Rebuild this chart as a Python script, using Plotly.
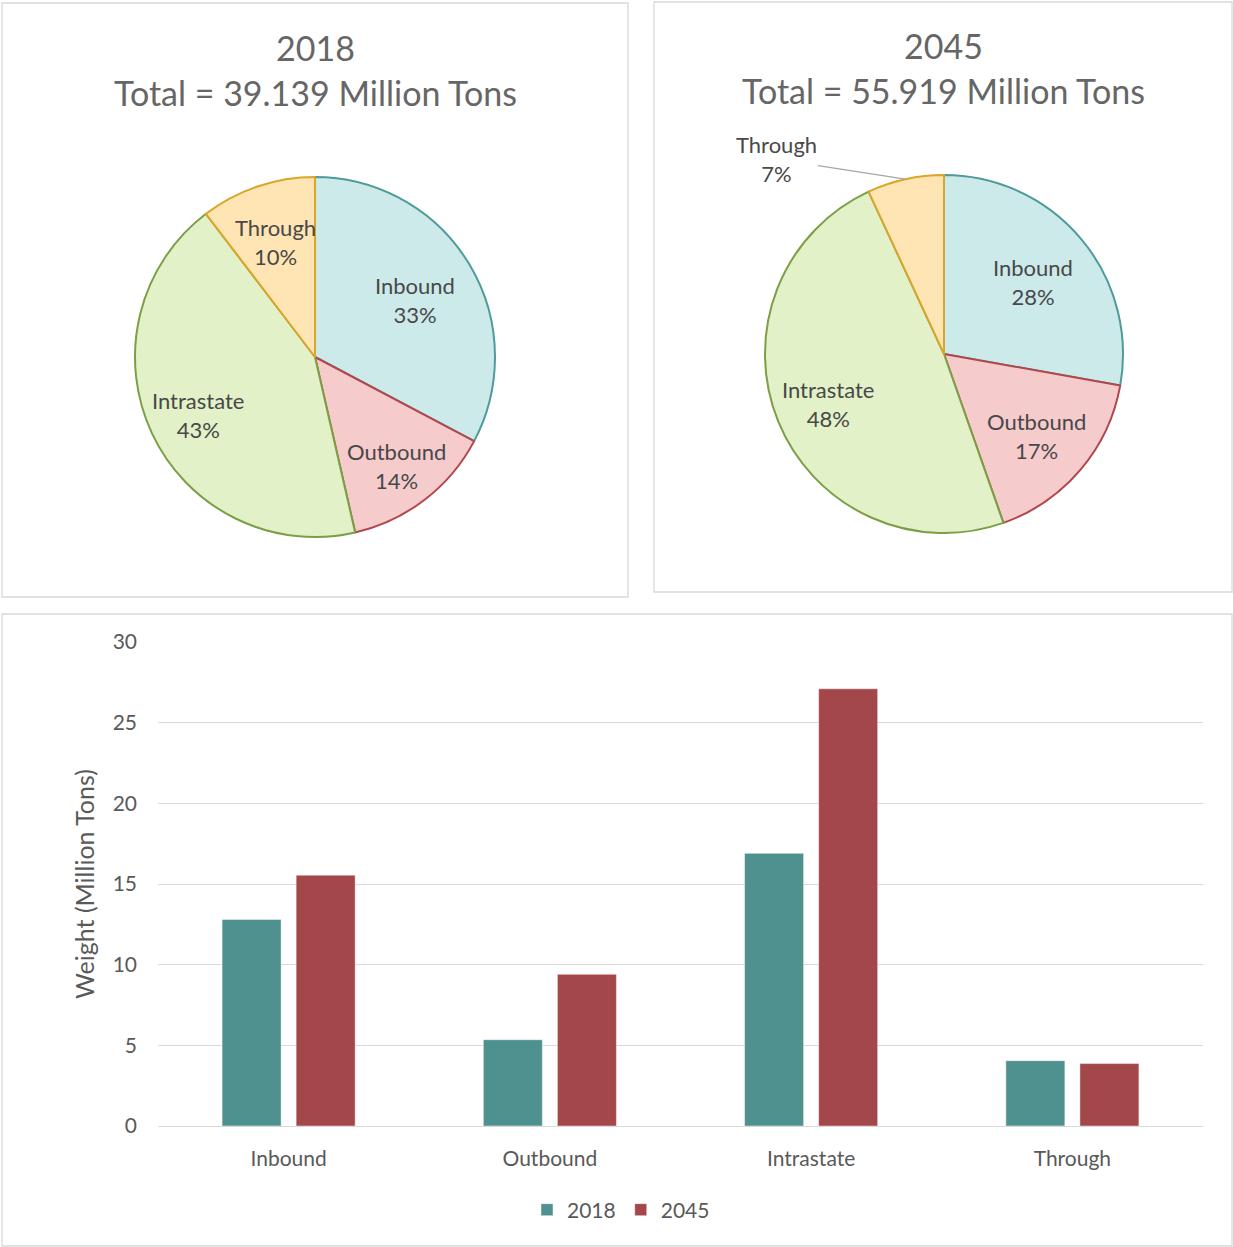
import math
import plotly.graph_objects as go

# Freight flows by direction, million tons
categories = ["Inbound", "Outbound", "Intrastate", "Through"]
tons_2018 = [12.8, 5.35, 16.9, 4.05]
tons_2045 = [15.55, 9.4, 27.1, 3.87]
years = ["2018", "2045"]
pie_titles = ["Total = 39.139 Million Tons", "Total = 55.919 Million Tons"]
y_ticks = [0, 5, 10, 15, 20, 25, 30]

W, H = 1233, 1247
FONT = "Lato"
TEXT_GRAY = "#595959"
TITLE_GRAY = "#666666"
LABEL_GRAY = "#484848"
BOX_GRAY = "#d9d9d9"

slice_fill = ["#cdeaeb", "#f5cbcc", "#e2f1c8", "#ffe5b3"]
slice_edge = ["#4f9a9b", "#b0474b", "#7c9f45", "#d9a52a"]
bar_colors = ["#4f918e", "#a4474a"]

# pie geometry in pixels: centre x, centre y, radius, and the radial
# position of each slice label as a fraction of the radius
pies = [
    dict(cx=315, cy=357, r=180, title_x=315, title_y=(47, 92),
         label_r=[0.65, 0.74, 0.72, 0.69]),
    dict(cx=944, cy=354, r=179, title_x=943, title_y=(45, 91),
         label_r=[0.65, 0.68, 0.70, 1.0]),
]


def px(x):
    return x / W


def py(y):
    return 1 - y / H


fig = go.Figure()
annotations = []

for k, (vals, geo) in enumerate(zip([tons_2018, tons_2045], pies)):
    cx, cy, r = geo["cx"], geo["cy"], geo["r"]
    fig.add_trace(go.Pie(
        labels=categories,
        values=vals,
        sort=False,
        direction="clockwise",
        rotation=0,
        textinfo="none",
        hoverinfo="label+percent",
        marker=dict(colors=slice_fill, line=dict(color=slice_edge, width=2)),
        domain=dict(x=[px(cx - r), px(cx + r)], y=[py(cy + r), py(cy - r)]),
        showlegend=False,
    ))

    total = sum(vals)
    cum = 0.0
    for i, (name, v) in enumerate(zip(categories, vals)):
        frac = v / total
        theta = 2 * math.pi * (cum + frac / 2)
        cum += frac
        text = f"{name}<br>{round(frac * 100)}%"
        if k == 1 and name == "Through":
            # small slice: label sits outside with a leader line to the arc
            ex = cx + r * math.sin(theta)
            ey = cy - r * math.cos(theta)
            annotations.append(dict(
                x=px(ex), y=py(ey), xref="paper", yref="paper",
                text=text, showarrow=True, arrowhead=0, arrowwidth=1.2,
                arrowcolor="#a6a6a6", ax=776 - ex, ay=159 - ey,
                font=dict(family=FONT, size=22, color=LABEL_GRAY),
            ))
            continue
        rr = geo["label_r"][i] * r
        lx = cx + rr * math.sin(theta)
        ly = cy - rr * math.cos(theta)
        annotations.append(dict(
            x=px(lx), y=py(ly), xref="paper", yref="paper",
            text=text, showarrow=False, xanchor="center", yanchor="middle",
            yshift=-3,
            font=dict(family=FONT, size=22, color=LABEL_GRAY),
        ))

    for line_text, ty in zip([years[k], pie_titles[k]], geo["title_y"]):
        annotations.append(dict(
            x=px(geo["title_x"]), y=py(ty), xref="paper", yref="paper",
            text=line_text, showarrow=False, xanchor="center", yanchor="middle",
            font=dict(family=FONT, size=34, color=TITLE_GRAY),
        ))

for yr, vals, col in zip(years, [tons_2018, tons_2045], bar_colors):
    fig.add_trace(go.Bar(
        x=categories, y=vals, name=yr,
        marker=dict(color=col, line=dict(color="rgba(255,255,255,0.45)", width=1)),
        xaxis="x", yaxis="y",
    ))

# panel borders
boxes = [(2, 3, 628, 597), (654, 2, 1232, 592), (2, 614, 1232, 1246)]
shapes = [
    dict(type="rect", xref="paper", yref="paper",
         x0=px(x0), x1=px(x1), y0=py(y1), y1=py(y0),
         line=dict(color=BOX_GRAY, width=1.3), layer="below")
    for x0, y0, x1, y1 in boxes
]

fig.update_layout(
    width=W, height=H,
    autosize=False,
    margin=dict(l=0, r=0, t=0, b=0, pad=0, autoexpand=False),
    paper_bgcolor="white", plot_bgcolor="white",
    font=dict(family=FONT, color=TEXT_GRAY),
    barmode="group", bargap=0.433, bargroupgap=0.203,
    xaxis=dict(
        domain=[px(158), px(1203)],
        anchor="y", automargin=False,
        showgrid=False, showline=True, linecolor=BOX_GRAY, linewidth=1.3,
        ticks="", ticklabelstandoff=14,
        tickfont=dict(family=FONT, size=21, color=TEXT_GRAY),
    ),
    yaxis=dict(
        domain=[py(1126), py(642)],
        anchor="x", automargin=False,
        range=[0, 30], tickvals=y_ticks,
        showgrid=True, gridcolor=BOX_GRAY, gridwidth=1.3,
        zeroline=False, showline=False, ticks="", ticklabelstandoff=20,
        tickfont=dict(family=FONT, size=21, color=TEXT_GRAY),
        title=dict(text="Weight (Million Tons)", standoff=10,
                   font=dict(family=FONT, size=25, color=TEXT_GRAY)),
    ),
    legend=dict(
        orientation="h", x=px(621), y=py(1210), xanchor="center", yanchor="middle",
        font=dict(family=FONT, size=21, color=TEXT_GRAY),
        bgcolor="rgba(0,0,0,0)", itemwidth=30,
    ),
    annotations=annotations,
    shapes=shapes,
)

fig.write_html("out.html")
